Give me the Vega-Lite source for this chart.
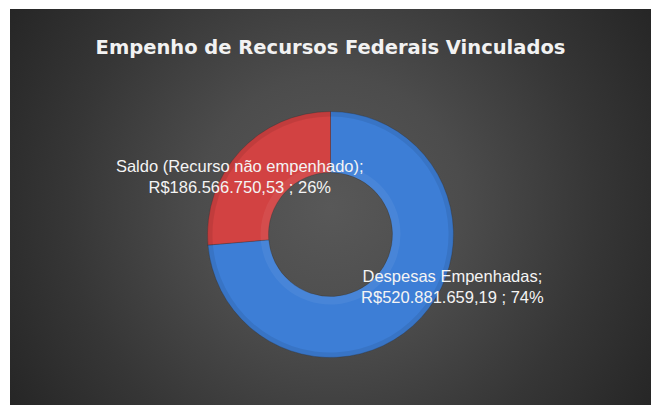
{
  "$schema": "https://vega.github.io/schema/vega-lite/v6.json",
  "background": "white",
  "padding": {"left": 10, "top": 9, "right": 0, "bottom": 0},
  "spacing": 0,
  "config": {"view": {"stroke": null}},
  "datasets": {
    "recursos": [
      {"categoria": "Despesas Empenhadas", "valor": 520881659.19, "rotulo": ["Despesas Empenhadas;", "R$520.881.659,19  ; 74%"]},
      {"categoria": "Saldo (Recurso não empenhado)", "valor": 186566750.53, "rotulo": ["Saldo (Recurso não empenhado);", "R$186.566.750,53  ; 26%"]}
    ],
    "titulo": [
      {"texto": "Empenho de Recursos Federais Vinculados"}
    ]
  },
  "vconcat": [
    {
      "width": 641,
      "height": 55,
      "view": {
        "stroke": null,
        "fill": {"gradient": "radial", "x1": 0.5, "y1": 0.766, "r1": 0, "x2": 0.5, "y2": 0.766, "r2": 0.587,
          "stops": [{"offset": 0, "color": "#585858"}, {"offset": 0.35, "color": "#4c4c4c"}, {"offset": 0.7, "color": "#363636"}, {"offset": 1, "color": "#262626"}]}
      },
      "data": {"name": "titulo"},
      "mark": {"type": "text", "font": "DejaVu Sans", "fontWeight": "bold", "fontSize": 19.5, "color": "#f2f2f2", "dy": 11, "align": "center", "baseline": "middle"},
      "encoding": {"text": {"field": "texto", "type": "nominal"}}
    },
    {
      "width": 641,
      "height": 341,
      "view": {
        "stroke": null,
        "fill": {"gradient": "radial", "x1": 0.5, "y1": 0.457, "r1": 0, "x2": 0.5, "y2": 0.457, "r2": 0.587,
          "stops": [{"offset": 0, "color": "#585858"}, {"offset": 0.35, "color": "#4c4c4c"}, {"offset": 0.7, "color": "#363636"}, {"offset": 1, "color": "#262626"}]}
      },
      "data": {"name": "recursos"},
      "encoding": {
        "theta": {"field": "valor", "type": "quantitative", "stack": true},
        "order": {"field": "valor", "type": "quantitative", "sort": "descending"}
      },
      "layer": [
        {
          "mark": {"type": "arc", "radius": 123, "radius2": 62, "stroke": "#2a2a2a", "strokeWidth": 0.6, "strokeOpacity": 0.5},
          "encoding": {
            "color": {"field": "categoria", "type": "nominal", "legend": null,
              "scale": {"domain": ["Despesas Empenhadas", "Saldo (Recurso não empenhado)"], "range": ["#3d7ed6", "#d24242"]}}
          }
        },
        {
          "mark": {"type": "arc", "radius": 70, "radius2": 62, "fill": "#ffffff", "fillOpacity": 0.06},
          "encoding": {"detail": {"field": "categoria", "type": "nominal"}}
        },
        {
          "mark": {"type": "arc", "radius": 123, "radius2": 118, "fill": "#000000", "fillOpacity": 0.08},
          "encoding": {"detail": {"field": "categoria", "type": "nominal"}}
        },
        {
          "mark": {"type": "text", "font": "Liberation Sans", "fontSize": 16.5, "color": "#f4f4f4", "align": "center", "baseline": "middle", "lineHeight": 21, "dy": -10.5},
          "encoding": {
            "theta": {"field": "valor", "type": "quantitative", "stack": true, "scale": {"range": [-0.4384, 6.138]}},
            "radius": {"field": "valor", "type": "quantitative", "scale": {"zero": false, "domain": [186566750.53, 520881659.19], "range": [107, 133]}},
            "detail": {"field": "categoria", "type": "nominal"},
            "text": {"field": "rotulo"}
          }
        }
      ],
      "resolve": {"scale": {"theta": "independent"}}
    }
  ]
}
